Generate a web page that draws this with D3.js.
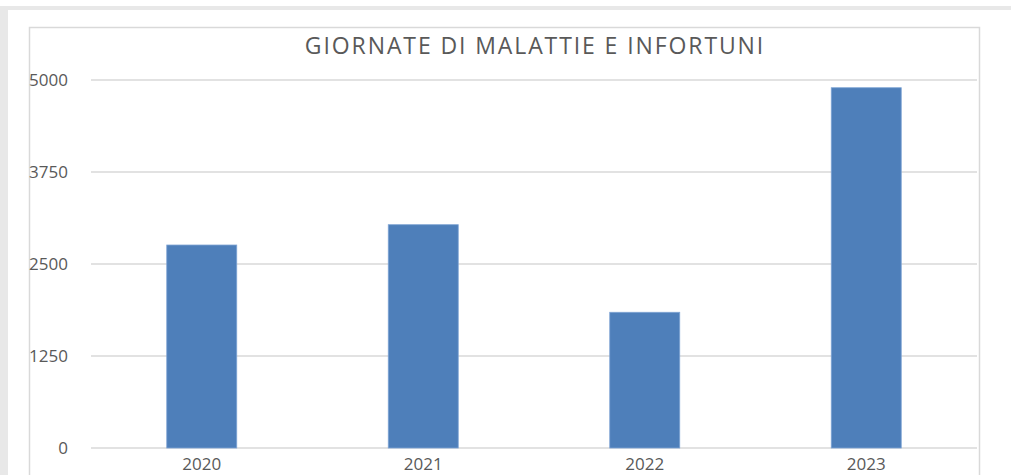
<!doctype html>
<html>
<head>
<meta charset="utf-8">
<style>
	body { margin: 0; background: #fff; }
	svg text { font-family: "Open Sans", sans-serif; fill: #595959; }
</style>
</head>
<body>
	<div class="figure"></div>
	<script src="https://d3js.org/d3.v7.min.js"></script>
	<script>
		// dati
		let years = ["2020", "2021", "2022", "2023"];
		let days = [2758, 3034, 1844, 4895];
		let yTicks = [0, 1250, 2500, 3750, 5000];
		let title = "GIORNATE DI MALATTIE E INFORTUNI";

		let svg = d3.select(".figure")
			.append("svg")
			.attr("width", 1011)
			.attr("height", 475);

		// strisce grigie del bordo dello screenshot
		svg.append("rect").attr("x", 0).attr("y", 6).attr("width", 1011).attr("height", 4).style("fill", "#e8e8e8");
		svg.append("rect").attr("x", 0).attr("y", 6).attr("width", 8).attr("height", 469).style("fill", "#e8e8e8");

		// cornice del grafico
		svg.append("rect")
			.attr("x", 29.5).attr("y", 27.5)
			.attr("width", 950).attr("height", 460)
			.style("fill", "white")
			.style("stroke", "#d9d9d9")
			.style("stroke-width", 1.5);

		let x = d3.scaleBand()
			.domain(years)
			.range([91, 977])
			.paddingInner(0.684)
			.paddingOuter(0.342);

		let y = d3.scaleLinear()
			.domain([0, 5000])
			.range([448, 80]);

		// griglia
		svg.append("g")
			.selectAll("line")
			.data(yTicks)
			.join("line")
			.attr("x1", 91).attr("x2", 977)
			.attr("y1", d => y(d)).attr("y2", d => y(d))
			.style("stroke", "#d9d9d9")
			.style("stroke-width", 1.3);

		// etichette asse y
		svg.append("g")
			.selectAll("text")
			.data(yTicks)
			.join("text")
			.attr("x", 68)
			.attr("y", d => y(d))
			.attr("dy", "0.35em")
			.attr("text-anchor", "end")
			.style("font-size", "17px")
			.text(d => d);

		// barre
		svg.append("g")
			.selectAll("rect")
			.data(days)
			.join("rect")
			.attr("x", (d, i) => x(years[i]))
			.attr("y", d => y(d))
			.attr("width", x.bandwidth())
			.attr("height", d => y(0) - y(d))
			.style("fill", "#4e7fba")
			.style("stroke", "#7ea4d4")
			.style("stroke-width", 0.8);

		// etichette asse x
		svg.append("g")
			.selectAll("text")
			.data(years)
			.join("text")
			.attr("x", d => x(d) + x.bandwidth() / 2)
			.attr("y", 470)
			.attr("text-anchor", "middle")
			.style("font-size", "17px")
			.text(d => d);

		// titolo
		svg.append("text")
			.attr("x", 535)
			.attr("y", 53.5)
			.attr("text-anchor", "middle")
			.style("font-size", "23px")
			.style("letter-spacing", "1.9px")
			.text(title);
	</script>
</body>
</html>
